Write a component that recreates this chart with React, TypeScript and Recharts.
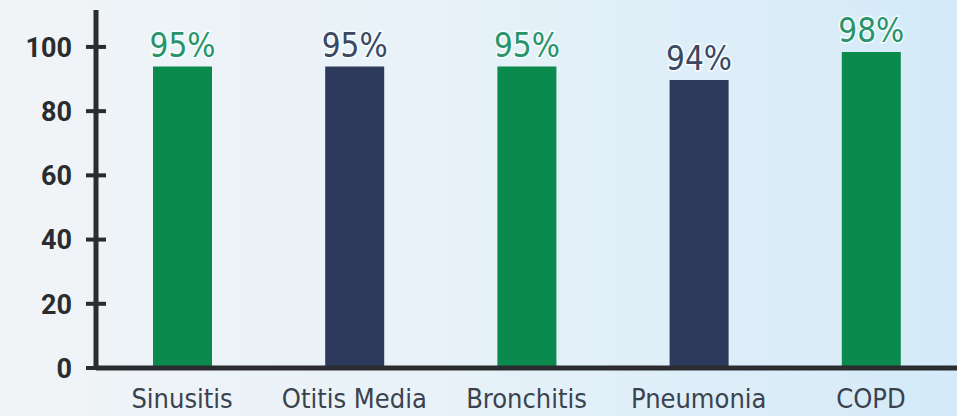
import { Bar, BarChart, Cell, LabelList, XAxis, YAxis } from "recharts";

const categories = ["Sinusitis", "Otitis Media", "Bronchitis", "Pneumonia", "COPD"];
const barValues = [93.9, 93.9, 93.9, 89.7, 98.4];
const valueLabels = ["95%", "95%", "95%", "94%", "98%"];
const yTicks = [0, 20, 40, 60, 80, 100];

const GREEN = "#0b8a4d";
const NAVY = "#2d3a5c";
const BAR_COLORS = [GREEN, NAVY, GREEN, NAVY, GREEN];
const LABEL_COLORS = ["#2a9369", "#3c4761", "#2a9369", "#3c4761", "#2a9369"];
const AXIS = "#2a2c2f";
const COND = "'DejaVu Sans Condensed', 'Liberation Sans Narrow', sans-serif";

const data = categories.map((name, i) => ({
  name,
  value: barValues[i],
  label: valueLabels[i],
}));

function YTick(props: any) {
  const { x, y, payload } = props;
  return (
    <g>
      <line x1={x - 10} x2={x + 10} y1={y} y2={y} stroke={AXIS} strokeWidth={4} />
      <text
        x={x - 24}
        y={y}
        dy="0.36em"
        textAnchor="end"
        fill={AXIS}
        fontSize={27}
        fontWeight={700}
        fontFamily="Roboto, sans-serif"
      >
        {payload.value}
      </text>
    </g>
  );
}

function ValueLabel(props: any) {
  const { x, y, width, index } = props;
  return (
    <text
      x={x + width / 2}
      y={y - 10}
      textAnchor="middle"
      fill={LABEL_COLORS[index]}
      fontSize={33}
      fontFamily={COND}
      fontStretch="condensed"
      stroke="#f4fdff"
      strokeWidth={3}
      paintOrder="stroke"
    >
      {valueLabels[index]}
    </text>
  );
}

export default function App() {
  return (
    <div
      style={{
        position: "absolute",
        left: 0,
        top: 0,
        width: 957,
        height: 416,
        background: "linear-gradient(90deg, #f1f4f7 0%, #e8f2f8 45%, #d4eaf8 100%)",
      }}
    >
      <BarChart
        width={957}
        height={416}
        data={data}
        margin={{ top: 10, right: 0, bottom: 0, left: 0 }}
      >
        <XAxis
          dataKey="name"
          height={48}
          axisLine={{ stroke: AXIS, strokeWidth: 5 }}
          tickLine={false}
          tickSize={0}
          tickMargin={21}
          interval={0}
          tick={{ fill: "#3a424e", fontSize: 27, fontFamily: COND, fontStretch: "condensed" }}
        />
        <YAxis
          width={96}
          domain={[0, 111.5]}
          ticks={yTicks}
          axisLine={{ stroke: AXIS, strokeWidth: 5 }}
          tickLine={false}
          tickSize={0}
          tickMargin={0}
          tick={<YTick />}
        />
        <Bar dataKey="value" barSize={59} isAnimationActive={false}>
          {data.map((_, i) => (
            <Cell key={i} fill={BAR_COLORS[i]} />
          ))}
          <LabelList dataKey="label" content={<ValueLabel />} />
        </Bar>
      </BarChart>
    </div>
  );
}
